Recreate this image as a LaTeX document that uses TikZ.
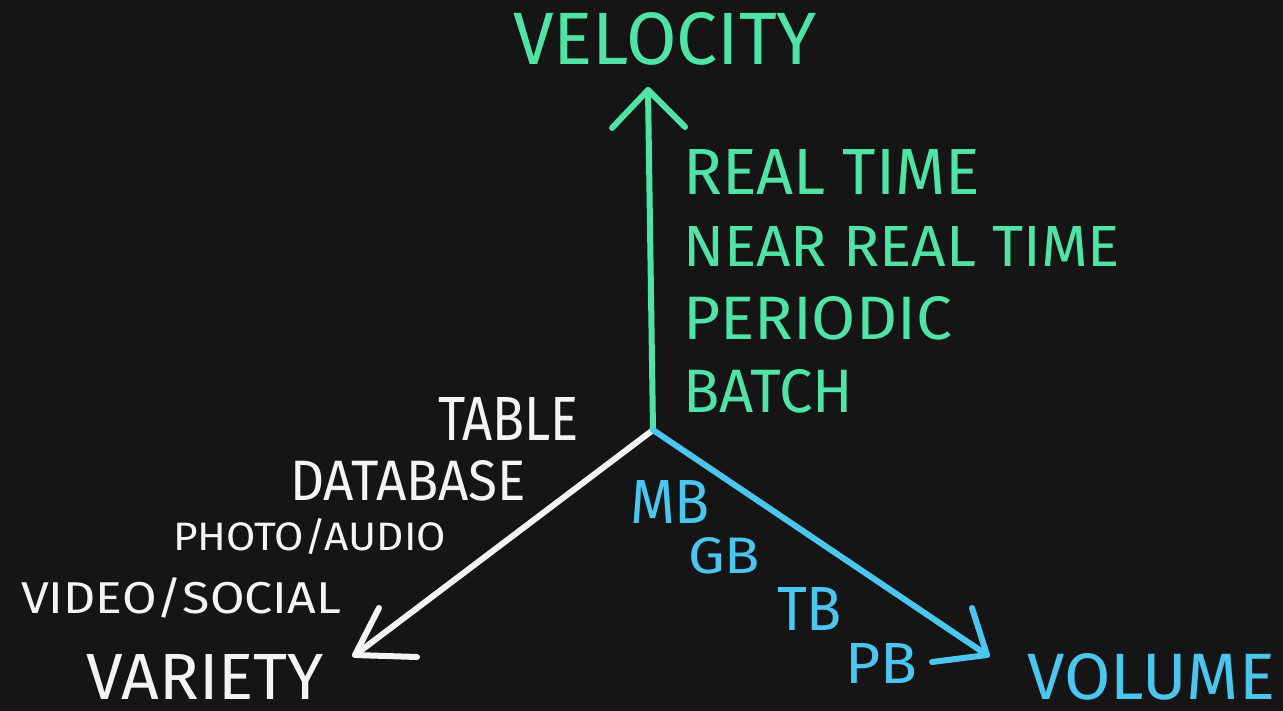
\documentclass[tikz,border=0pt]{standalone}
\usepackage{fontspec}
\setmainfont{Fira Sans}
\usepackage{graphicx}
\definecolor{bg}{HTML}{151515}
\definecolor{vgreen}{HTML}{4FE3A5}
\definecolor{vblue}{HTML}{4AC6EF}
\definecolor{vwhite}{HTML}{F4F4F4}
\newcommand\fitbox[3]{\resizebox{#1pt}{#2pt}{#3}}
\begin{document}
\begin{tikzpicture}[x=1pt,y=-1pt,
  lbl/.style={anchor=base west,inner sep=0pt,outer sep=0pt},
  axis/.style={line width=6pt,line cap=round,line join=round}]
\fill[bg] (0,0) rectangle (1283,711);
\useasboundingbox (0,0) rectangle (1283,711);
% axes
\coordinate (o) at (653,430);
\coordinate (vtip) at (648,90);
\coordinate (vl) at (612,128);
\coordinate (vr) at (685,127);
\coordinate (ytip) at (355,655);
\coordinate (yl) at (379,608);
\coordinate (yr) at (417,657);
\coordinate (mtip) at (987,655);
\coordinate (ml) at (972,608);
\coordinate (mr) at (932,662);
\draw[axis,vgreen] (o) -- (vtip);
\draw[axis,vgreen] (vl) -- (vtip) -- (vr);
\draw[axis,vwhite] (o) -- (ytip);
\draw[axis,vwhite] (yl) -- (ytip) -- (yr);
\draw[axis,vblue] (o) -- (mtip);
\draw[axis,vblue] (ml) -- (mtip) -- (mr);
% velocity labels
\node[lbl,text=vgreen] (velocity) at (513,65) {\fitbox{304}{52}{VELOCITY}};
\node[lbl,text=vgreen] (realtime) at (683,195) {\fitbox{297}{45}{REAL TIME}};
\node[lbl,text=vgreen] (nrt) at (683,267) {\fitbox{437}{40}{NEAR REAL TIME}};
\node[lbl,text=vgreen] (periodic) at (683,340) {\fitbox{269}{43}{PERIODIC}};
\node[lbl,text=vgreen] (batch) at (683,413) {\fitbox{170}{43}{BATCH}};
% variety labels
\node[lbl,text=vwhite] (table) at (438,440) {\fitbox{141}{43}{TABLE}};
\node[lbl,text=vwhite] (database) at (290,500) {\fitbox{236}{40}{DATABASE}};
\node[lbl,text=vwhite] (photo) at (173,550) {\fitbox{273}{32}{PHOTO/AUDIO}};
\node[lbl,text=vwhite] (video) at (21,613) {\fitbox{320}{36}{VIDEO/SOCIAL}};
\node[lbl,text=vwhite] (variety) at (86,699) {\fitbox{238}{45}{VARIETY}};
% volume labels
\node[lbl,text=vblue] (mb) at (630,523) {\fitbox{80}{43}{MB}};
\node[lbl,text=vblue] (gb) at (688,573) {\fitbox{72}{36}{GB}};
\node[lbl,text=vblue] (tb) at (777,630) {\fitbox{65}{43}{TB}};
\node[lbl,text=vblue] (pb) at (845,683) {\fitbox{72}{40}{PB}};
\node[lbl,text=vblue] (volume) at (1027,699) {\fitbox{248}{46}{VOLUME}};
\end{tikzpicture}
\end{document}
